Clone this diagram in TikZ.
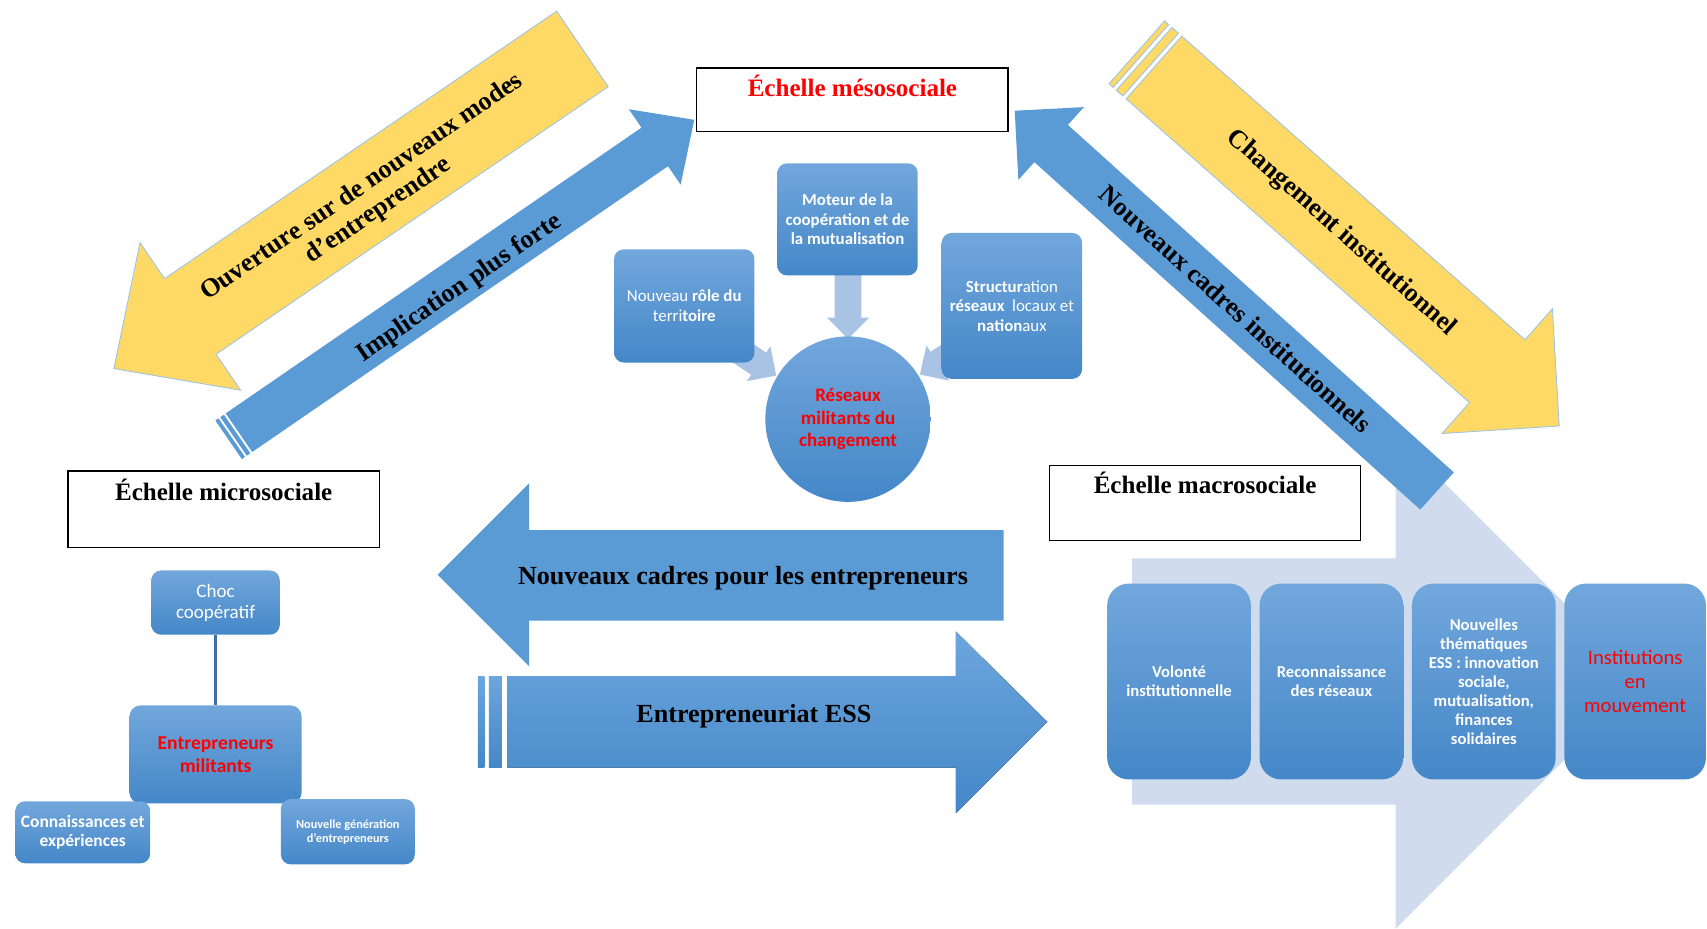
\documentclass[tikz,border=0pt]{standalone}
\usepackage{fontspec}
\setmainfont{Liberation Serif}
\newfontfamily\carlito{Carlito}
\definecolor{gold}{HTML}{FFD966}
\definecolor{goldedge}{HTML}{9DC3E6}
\definecolor{arrowblue}{HTML}{5B9BD5}
\definecolor{arrowtop}{HTML}{6CA6DD}
\definecolor{boxtop}{HTML}{72A7DC}
\definecolor{boxbottom}{HTML}{4487C8}
\definecolor{paleblue}{HTML}{D0DCEE}
\definecolor{softblue}{HTML}{A9C3E4}
\definecolor{linkblue}{HTML}{3E70A6}
\definecolor{textred}{HTML}{FF0000}

\begin{document}
\begin{tikzpicture}[x=1pt, y=-1pt,
  bluebox/.style={rounded corners=9pt, top color=boxtop, bottom color=boxbottom, text=white, align=center, inner sep=0pt},
  macrobox/.style={bluebox, rounded corners=20pt, minimum width=132pt, minimum height=180pt},
  boxfont/.style 2 args={font=\carlito\fontsize{#1}{#2}\selectfont\bfseries},
  lightfont/.style 2 args={font=\carlito\fontsize{#1}{#2}\selectfont},
  titlebox/.style={draw=black, line width=1.2pt, fill=white, minimum width=286pt, inner sep=0pt, font=\fontsize{23}{26}\selectfont\bfseries},
  arrowtext/.style={font=\fontsize{24}{26}\selectfont\bfseries, align=center, inner sep=0pt},
  yellowarrow/.style={fill=gold, draw=goldedge, line width=0.8pt},
  bluearrow/.style={fill=arrowblue}]

\useasboundingbox (0,0) rectangle (1568,853);

\fill[paleblue] (1040,513) -- (1282,513) -- (1282,399) -- (1509,626) -- (1282,853) -- (1282,739) -- (1040,739) -- cycle;

\begin{scope}[shift={(535,45)}, rotate=214.3]
\draw[yellowarrow] (0,-42) -- (436,-42) -- (436,-82) -- (521,0) -- (436,82) -- (436,42) -- (0,42) -- cycle;
\end{scope}
\begin{scope}[shift={(210,404)}, rotate=34.5]
\fill[bluearrow] (0,-21.5) rectangle (3.5,21.5);
\fill[bluearrow] (5.5,-21.5) rectangle (9.5,21.5);
\fill[bluearrow] (11.5,-21.5) -- (475,-21.5) -- (475,-42) -- (519,0) -- (475,42) -- (475,21.5) -- (11.5,21.5) -- cycle;
\end{scope}
\begin{scope}[shift={(1060,62)}, rotate=-41.5]
\draw[yellowarrow] (-21,-38.5) rectangle (-16,38.5);
\draw[yellowarrow] (-12,-38.5) rectangle (-4,38.5);
\draw[yellowarrow] (0,-38.5) -- (421,-38.5) -- (421,-76.5) -- (497,0) -- (421,76.5) -- (421,38.5) -- (0,38.5) -- cycle;
\end{scope}
\begin{scope}[shift={(1320,451)}, rotate=138]
\fill[bluearrow] (0,-23) -- (477,-23) -- (477,-45) -- (522,0) -- (477,45) -- (477,23) -- (0,23) -- cycle;
\end{scope}

\node[arrowtext, rotate=34.3] (ouverture) at (340,183) {Ouverture sur de nouveaux modes\\d’entreprendre};
\node[arrowtext, rotate=34.5] (implication) at (422,265) {Implication plus forte};
\node[arrowtext, rotate=-41.5] (changement) at (1232,214) {Changement institutionnel};
\node[arrowtext, rotate=-42] (cadresinst) at (1135,284) {Nouveaux cadres institutionnels};

\fill[bluearrow] (922,487) -- (486,487) -- (486,444) -- (402,528) -- (486,612) -- (486,570) -- (922,570) -- cycle;
\fill[top color=arrowtop, bottom color=boxbottom] (439,621) rectangle (445,705);
\fill[top color=arrowtop, bottom color=boxbottom] (449,621) rectangle (461,705);
\fill[top color=arrowtop, bottom color=boxbottom] (466,621) -- (878,621) -- (878,580) -- (962,663) -- (878,747) -- (878,705) -- (466,705) -- cycle;
\node[arrowtext] (cadresentr) at (682.5,531) {Nouveaux cadres pour les entrepreneurs};
\node[arrowtext] (ess) at (692.5,658) {Entrepreneuriat ESS};

\node[titlebox, text=textred, text height=26pt, text depth=32pt, anchor=north] (meso) at (783,62) {Échelle mésosociale};
\node[titlebox, text height=27pt, text depth=43pt, anchor=north] (micro) at (205.5,432) {Échelle microsociale};
\node[titlebox, text height=26pt, text depth=43pt, anchor=north] (macro) at (1107,427) {Échelle macrosociale};

\foreach \tx/\ty/\ang in {713/345/-34, 845/344/212.7, 779/311.3/-90}
  \fill[softblue, shift={(\tx,\ty)}, rotate=\ang] (-70,-12.3) -- (-19.5,-12.3) -- (-19.5,-19.3) -- (0,0) -- (-19.5,19.3) -- (-19.5,12.3) -- (-70,12.3) -- cycle;

\node[bluebox, boxfont={15.5}{18}, minimum width=129pt, minimum height=103pt] (moteur) at (778.5,201.5) {Moteur de la\\coopération et de\\la mutualisation};
\node[bluebox, lightfont={15.5}{18}, minimum width=129pt, minimum height=104pt] (territoire) at (628.5,281) {Nouveau \textbf{rôle du}\\terri\textbf{toire}};
\node[bluebox, lightfont={15.5}{18}, minimum width=129pt, minimum height=134pt] (structuration) at (929.5,281) {\textbf{Structur}ation\\\textbf{réseaux}~ locaux et\\\textbf{nation}aux};
\node[circle, top color=boxtop, bottom color=boxbottom, minimum size=152pt, inner sep=0pt, text=textred, align=center, boxfont={17.5}{20.5}] (reseaux) at (779,385) {Réseaux\\militants du\\changement};

\node[bluebox, lightfont={17.5}{19.5}, minimum width=118pt, minimum height=59pt] (choc) at (198,553.5) {Choc\\coopératif};
\node[bluebox, boxfont={18}{21}, text=textred, rounded corners=10pt, minimum width=158pt, minimum height=90pt] (entrepreneurs) at (198,693) {Entrepreneurs\\militants};
\node[bluebox, boxfont={16}{18}, minimum width=124pt, minimum height=57pt] (savoirs) at (76,764.5) {Connaissances et\\expériences};
\node[bluebox, boxfont={11.3}{13}, minimum width=123pt, minimum height=60pt] (generation) at (319.5,764) {Nouvelle génération\\d’entrepreneurs};
\draw[linkblue, line width=2.5pt] (choc) -- (entrepreneurs);

\node[macrobox, boxfont={15.3}{17.5}] (volonte) at (1083,626) {Volonté\\institutionnelle};
\node[macrobox, boxfont={15.3}{17.5}] (reconnaissance) at (1223,626) {Reconnaissance\\des réseaux};
\node[macrobox, boxfont={15.3}{17.5}] (thematiques) at (1363,626) {Nouvelles\\thématiques\\ESS : innovation\\sociale,\\mutualisation,\\finances\\solidaires};
\node[macrobox, lightfont={19}{22}, text=textred, minimum width=130pt] (institutions) at (1502,626) {Institutions\\en\\mouvement};
\end{tikzpicture}
\end{document}
